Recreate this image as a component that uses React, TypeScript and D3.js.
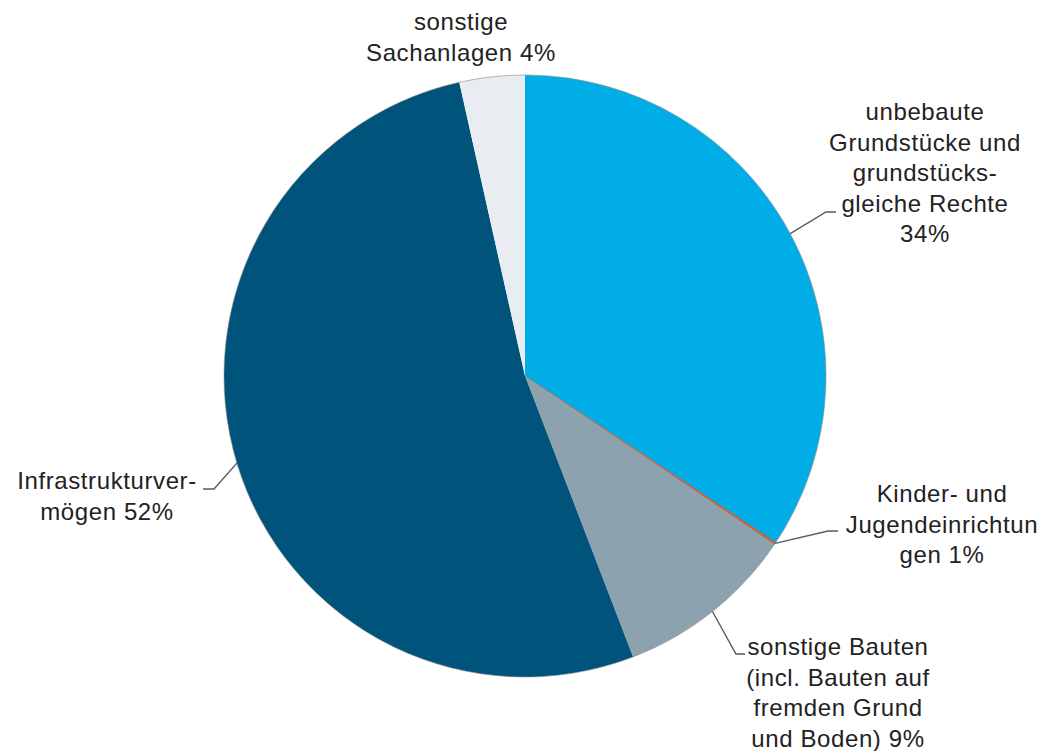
import React from "react";
import * as d3 from "d3";

const categories = [
  "unbebaute Grundstücke und grundstücksgleiche Rechte",
  "Kinder- und Jugendeinrichtungen",
  "sonstige Bauten",
  "Infrastrukturvermögen",
  "sonstige Sachanlagen",
];
const values = [34.3, 0.12, 9.7, 52.3, 3.5];
const colors = ["#00ADE6", "#C0603F", "#8CA3AF", "#00547C", "#E9EDF1"];
const labelLines = [
  ["unbebaute", "Grundstücke und", "grundstücks-", "gleiche Rechte", "34%"],
  ["Kinder- und", "Jugendeinrichtun", "gen 1%"],
  ["sonstige Bauten", "(incl. Bauten auf", "fremden Grund", "und Boden) 9%"],
  ["Infrastrukturver-", "mögen 52%"],
  ["sonstige", "Sachanlagen 4%"],
];

// layout (not data)
const W = 1048, H = 751;
const cx = 525, cy = 376, R = 301;
const lineH = 30.5;
const labelLayout = [
  { x: 925, y: 120, bend: [826, 212], end: [836, 212] },
  { x: 942, y: 502, bend: [828, 531], end: [838, 531] },
  { x: 838, y: 655, bend: [736, 654], end: [745, 654] },
  { x: 107, y: 489, bend: [214, 489], end: [203, 489] },
  { x: 461, y: 30, bend: null, end: null },
];

export default function App() {
  const pie = d3.pie<number>().sort(null).value((d) => d)(values);
  const arc = d3.arc<d3.PieArcDatum<number>>().innerRadius(0).outerRadius(R);
  return (
    <svg width={W} height={H} style={{ position: "absolute", left: 0, top: 0, background: "#fff" }}>
      <g transform={`translate(${cx},${cy})`}>
        {pie.map((p, i) => (
          <path key={categories[i]} d={arc(p) || ""} fill={colors[i]} stroke={i === 1 ? "#C0603F" : "none"} strokeWidth={i === 1 ? 0.8 : 0} />
        ))}
        <circle r={R} fill="none" stroke="#8a8a8a" strokeWidth={1} opacity={0.6} />
      </g>
      {pie.map((p, i) => {
        const L = labelLayout[i];
        if (!L.bend) return null;
        const a = (p.startAngle + p.endAngle) / 2;
        const sx = cx + R * Math.sin(a);
        const sy = cy - R * Math.cos(a);
        return (
          <polyline
            key={"l" + i}
            points={`${sx},${sy} ${L.bend[0]},${L.bend[1]} ${L.end![0]},${L.end![1]}`}
            fill="none"
            stroke="#5a5a5a"
            strokeWidth={1.4}
          />
        );
      })}
      {labelLines.map((lines, i) => (
        <text
          key={"t" + i}
          fontFamily="'Liberation Sans', Arial, sans-serif"
          fontSize={24}
          letterSpacing={0.6}
          fill="#222"
          textAnchor="middle"
        >
          {lines.map((s, j) => (
            <tspan key={j} x={labelLayout[i].x} y={labelLayout[i].y + j * lineH}>
              {s}
            </tspan>
          ))}
        </text>
      ))}
    </svg>
  );
}
